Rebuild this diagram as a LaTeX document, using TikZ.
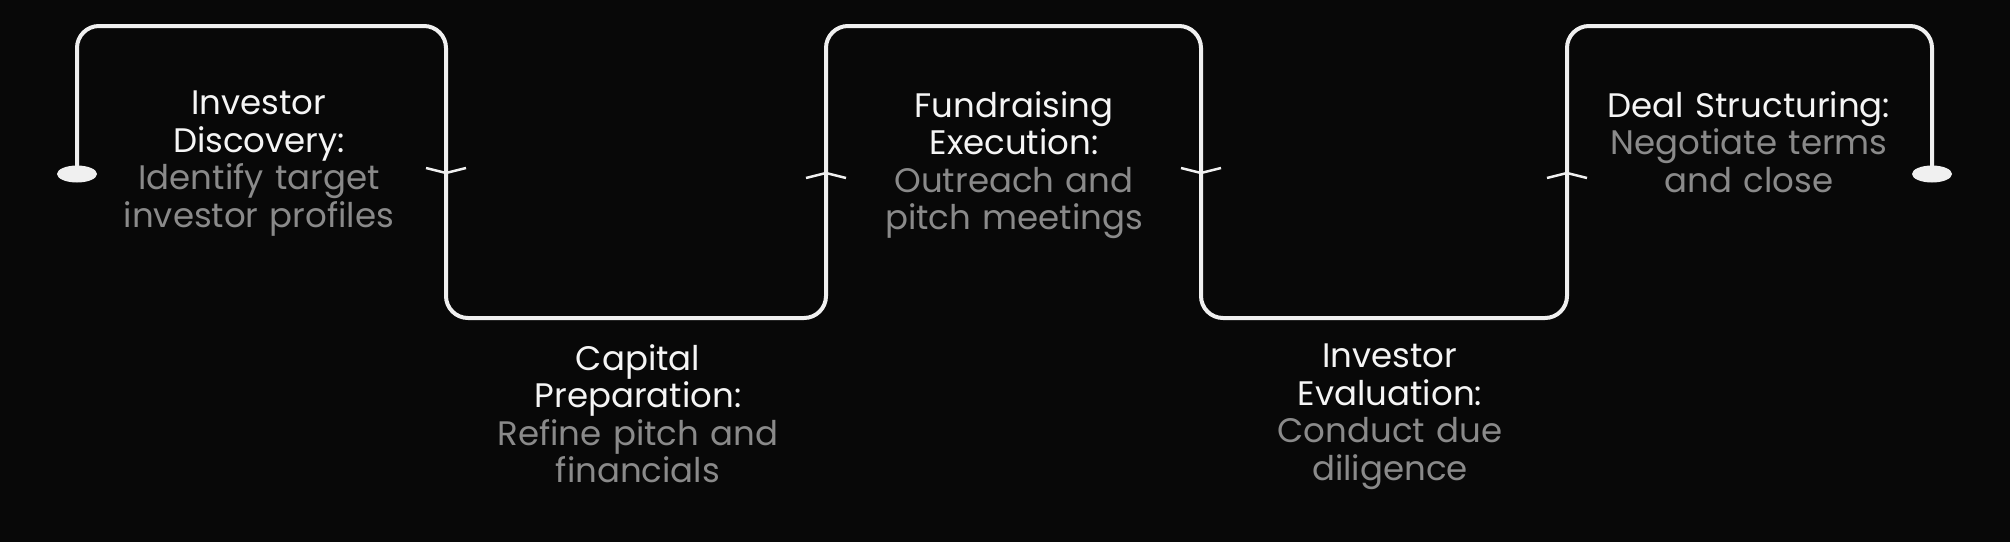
\documentclass[tikz,border=0pt]{standalone}
\usepackage{fontspec}
\setmainfont{Poppins}
\usetikzlibrary{shapes.geometric}
\definecolor{bg}{HTML}{080808}
\definecolor{ln}{HTML}{F0F0F0}
\definecolor{ttl}{HTML}{F5F5F5}
\definecolor{dsc}{HTML}{8A8A8A}
\begin{document}
\begin{tikzpicture}[x=1pt,y=-1pt,
  lbl/.style={align=center,font=\fontsize{34}{37.5}\selectfont,text width=360pt,inner sep=0pt},
  wire/.style={draw=ln,line width=4pt,rounded corners=22pt},
  chev/.style={draw=ln,line width=2.5pt},
  enddot/.style={fill=ln,draw=none,ellipse,minimum width=40pt,minimum height=17pt,inner sep=0pt}]
\fill[bg] (0,0) rectangle (2010,542);
\useasboundingbox (0,0) rectangle (2010,542);
\node[enddot] (s) at (77,174) {};
\node[enddot] (e) at (1932,174) {};
\draw[wire] (s.center) -- (77,26) -- (446,26) -- (446,318) -- (826,318) -- (826,26) -- (1201,26) -- (1201,318) -- (1567,318) -- (1567,26) -- (1932,26) -- (e.center);
\coordinate (a1) at (446,173);
\coordinate (a2) at (826,173);
\coordinate (a3) at (1201,173);
\coordinate (a4) at (1567,173);
\foreach \c in {a1,a3}{\draw[chev] ([xshift=-20pt,yshift=5pt]\c) -- (\c) -- ([xshift=20pt,yshift=5pt]\c);}
\foreach \c in {a2,a4}{\draw[chev] ([xshift=-20pt,yshift=-5pt]\c) -- (\c) -- ([xshift=20pt,yshift=-5pt]\c);}
\node[lbl,anchor=north] (n1) at (259,91) {\color{ttl}Investor\\Discovery:\\\color{dsc}Identify target\\investor profiles};
\node[lbl,anchor=north] (n2) at (638,344) {\color{ttl}Capital\\Preparation:\\\color{dsc}Refine pitch and\\financials};
\node[lbl,anchor=north] (n3) at (1014,91) {\color{ttl}Fundraising\\Execution:\\\color{dsc}Outreach and\\pitch meetings};
\node[lbl,anchor=north] (n4) at (1390,344) {\color{ttl}Investor\\Evaluation:\\\color{dsc}Conduct due\\diligence};
\node[lbl,anchor=north] (n5) at (1749,91) {\color{ttl}Deal Structuring:\\\color{dsc}Negotiate terms\\and close};
\end{tikzpicture}
\end{document}
